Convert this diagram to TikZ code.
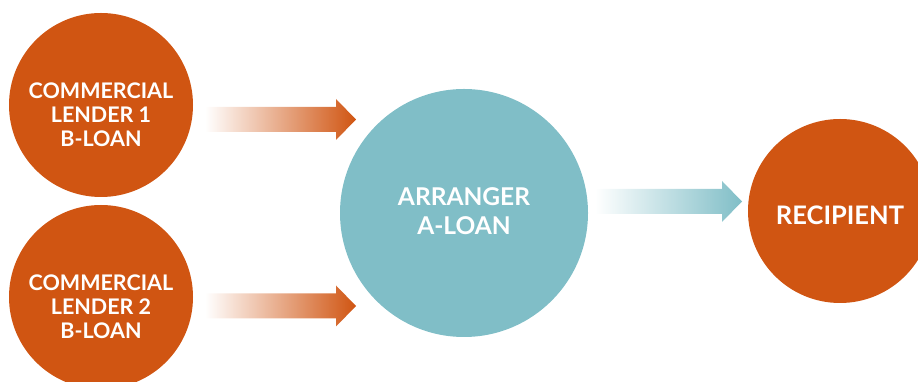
\documentclass[tikz,border=0pt]{standalone}
\usepackage{fontspec}
\setmainfont{Lato}
\usepackage{xcolor}
\usepackage{tikz}
\usetikzlibrary{calc}

\definecolor{rust}{RGB}{208,85,18}
\definecolor{sea}{RGB}{128,190,199}

% fat arrow with a fade from white: start, tip, colour
\newcommand{\fatarrow}[3]{%
  \shade[left color=white, right color=#3]
    ($(#1)+(0,-12.5)$) -- ($(#2)+(-20,-12.5)$) -- ($(#2)+(-20,-20.5)$) -- (#2)
    -- ($(#2)+(-20,20.5)$) -- ($(#2)+(-20,12.5)$) -- ($(#1)+(0,12.5)$) -- cycle;}

\begin{document}
\begin{tikzpicture}[x=1pt, y=1pt,
    party/.style={circle, fill=rust, minimum size=184pt, inner sep=0pt},
    hub/.style={circle, fill=sea, minimum size=248pt, inner sep=0pt},
    txt/.style={text=white, align=center, font=\bfseries\fontsize{21.5}{24}\selectfont}]
  \useasboundingbox (0,0) rectangle (918,382);
  \clip (0,0) rectangle (918,382);

  \node[party](lender1) at (101,277){};
  \node[party](lender2) at (101,85){};
  \node[hub](arranger) at (464,169){};
  \node[party](recipient) at (840,171){};

  \node[txt](lender1txt) at ($(lender1)+(0,-10)$){COMMERCIAL\\LENDER 1\\B-LOAN};
  \node[txt](lender2txt) at ($(lender2)+(0,-10)$){COMMERCIAL\\LENDER 2\\B-LOAN};
  \node[txt, font=\bfseries\fontsize{24.5}{29}\selectfont](arrangertxt) at ($(arranger)+(0,2)$){ARRANGER\\A-LOAN};
  \node[txt, font=\bfseries\fontsize{25.5}{29}\selectfont](recipienttxt) at ($(recipient)+(0,-4)$){RECIPIENT};

  \coordinate (a1s) at (205,262.5);
  \coordinate (a1e) at (356,262.5);
  \coordinate (a2s) at (205,76);
  \coordinate (a2e) at (356,76);
  \coordinate (a3s) at (595,180.5);
  \coordinate (a3e) at (742,180.5);
  \fatarrow{a1s}{a1e}{rust}
  \fatarrow{a2s}{a2e}{rust}
  \fatarrow{a3s}{a3e}{sea}
\end{tikzpicture}
\end{document}
